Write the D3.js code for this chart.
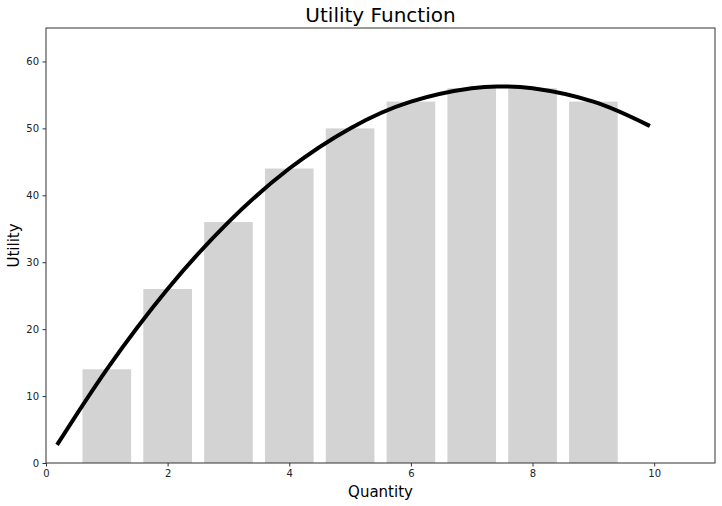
<!DOCTYPE html>
<html>
<head>
<meta charset="utf-8">
<script src="https://cdn.jsdelivr.net/npm/d3@7"></script>
<style>
  body { margin: 0; background: #fff; }
  text { font-family: "DejaVu Sans", sans-serif; fill: #000; }
  .axis path, .axis line { stroke: #333; }
  .axis text { font-size: 10px; fill: #222; }
</style>
</head>
<body>
<div id="chart"></div>
<script>
// data
var quantities = [1, 2, 3, 4, 5, 6, 7, 8, 9];
var utilities = [14, 26, 36, 44, 50, 54, 56, 56, 54];
var curveQ = [0.2, 1, 2, 3, 4, 5, 6, 7, 7.5, 8, 9, 9.9];
var curveU = [2.96, 14, 26, 36, 44, 50, 54, 56, 56.25, 56, 54, 50.49];
var xTicks = [0, 2, 4, 6, 8, 10];
var yTicks = [0, 10, 20, 30, 40, 50, 60];

var width = 722, height = 506;
var margin = { top: 28, right: 7, bottom: 43, left: 46 };

var svg = d3.select("#chart").append("svg")
    .attr("width", width)
    .attr("height", height);

var x = d3.scaleLinear().domain([0, 11]).range([margin.left, width - margin.right]);
var y = d3.scaleLinear().domain([0, 65]).range([height - margin.bottom, margin.top]);

// bars
svg.selectAll(".bar")
    .data(quantities)
    .enter().append("rect")
    .attr("class", "bar")
    .attr("x", function (d) { return x(d - 0.4); })
    .attr("width", function (d) { return x(d + 0.4) - x(d - 0.4); })
    .attr("y", function (d, i) { return y(utilities[i]); })
    .attr("height", function (d, i) { return y(0) - y(utilities[i]); })
    .attr("fill", "#d3d3d3");

// utility curve
var line = d3.line()
    .x(function (d) { return x(d[0]); })
    .y(function (d) { return y(d[1]); })
    .curve(d3.curveNatural);

svg.append("path")
    .datum(d3.zip(curveQ, curveU))
    .attr("fill", "none")
    .attr("stroke", "#000")
    .attr("stroke-width", 4)
    .attr("stroke-linecap", "square")
    .attr("d", line);

// frame
svg.append("rect")
    .attr("x", margin.left)
    .attr("y", margin.top)
    .attr("width", width - margin.left - margin.right)
    .attr("height", height - margin.top - margin.bottom)
    .attr("fill", "none")
    .attr("stroke", "#333");

// axes
svg.append("g")
    .attr("class", "axis")
    .attr("transform", "translate(0," + y(0) + ")")
    .call(d3.axisBottom(x).tickValues(xTicks).tickSize(3.5).tickPadding(3.5).tickFormat(d3.format("d")))
    .call(function (g) { g.select(".domain").remove(); });

svg.append("g")
    .attr("class", "axis")
    .attr("transform", "translate(" + x(0) + ",0)")
    .call(d3.axisLeft(y).tickValues(yTicks).tickSize(3.5).tickPadding(3.5).tickFormat(d3.format("d")))
    .call(function (g) { g.select(".domain").remove(); });

// titles
svg.append("text")
    .attr("x", (margin.left + width - margin.right) / 2)
    .attr("y", 22)
    .attr("text-anchor", "middle")
    .style("font-size", "20px")
    .text("Utility Function");

svg.append("text")
    .attr("x", (margin.left + width - margin.right) / 2)
    .attr("y", 497)
    .attr("text-anchor", "middle")
    .style("font-size", "15px")
    .text("Quantity");

svg.append("text")
    .attr("transform", "translate(19," + (margin.top + height - margin.bottom) / 2 + ") rotate(-90)")
    .attr("text-anchor", "middle")
    .style("font-size", "15px")
    .text("Utility");
</script>
</body>
</html>
